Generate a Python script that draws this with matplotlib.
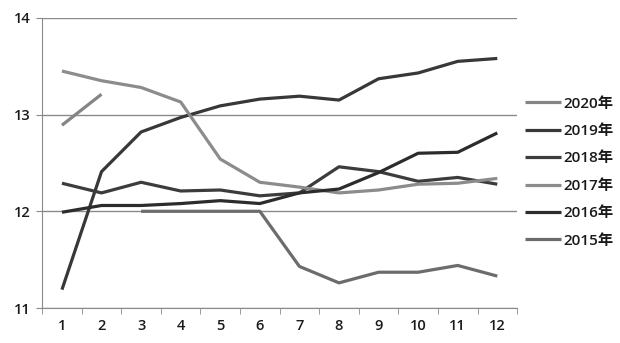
import numpy as np
import matplotlib.pyplot as plt

plt.rcParams['font.family'] = ['Open Sans', 'Noto Sans CJK SC', 'DejaVu Sans']
plt.rcParams['font.weight'] = 'semibold'
plt.rcParams['text.color'] = '#1a1a1a'

months = list(range(1, 13))
nan = np.nan
# values
y2020 = [12.89, 13.21, nan, nan, nan, nan, nan, nan, nan, nan, nan, nan]
y2019 = [11.19, 12.41, 12.82, 12.97, 13.09, 13.16, 13.19, 13.15, 13.37, 13.43, 13.55, 13.58]
y2018 = [12.29, 12.19, 12.30, 12.21, 12.22, 12.16, 12.19, 12.46, 12.41, 12.31, 12.35, 12.28]
y2017 = [13.45, 13.35, 13.28, 13.13, 12.54, 12.30, 12.25, 12.19, 12.22, 12.28, 12.29, 12.34]
y2016 = [11.99, 12.06, 12.06, 12.08, 12.11, 12.08, 12.19, 12.23, 12.40, 12.60, 12.61, 12.81]
y2015 = [nan, nan, 12.0, 12.0, 12.0, 12.0, 11.43, 11.26, 11.37, 11.37, 11.44, 11.33]

series = [("2020年", y2020, '#858585'),
          ("2019年", y2019, '#383838'),
          ("2018年", y2018, '#3c3c3c'),
          ("2017年", y2017, '#8c8c8c'),
          ("2016年", y2016, '#2c2c2c'),
          ("2015年", y2015, '#6c6c6c')]

fig = plt.figure(figsize=(6.2, 3.43), dpi=100)
ax = fig.add_axes([0.068, 0.102, 0.766, 0.846])

for name, vals, col in series:
    ax.plot(months, vals, color=col, lw=2.3, label=name, solid_capstyle='butt')

ax.set_xlim(0.5, 12.5)
ax.set_ylim(11, 14)
ax.set_yticks([11, 12, 13, 14])
ax.yaxis.grid(True, color='#8a8a8a', lw=1)
ax.set_axisbelow(True)
ax.set_xticks(months)
ax.set_xticks(np.arange(0.5, 13, 1), minor=True)
ax.tick_params(axis='x', which='major', length=0, labelsize=10.5, pad=8, labelcolor='#1a1a1a')
ax.tick_params(axis='x', which='minor', length=4, color='#8a8a8a', direction='out')
ax.tick_params(axis='y', length=4, color='#8a8a8a', labelsize=10.5, pad=4, labelcolor='#1a1a1a')
for s in ['top', 'right']:
    ax.spines[s].set_visible(False)
for s in ['left', 'bottom']:
    ax.spines[s].set_color('#8a8a8a')

ax.legend(loc='center left', bbox_to_anchor=(1.0, 0.468), frameon=False,
          fontsize=11, handlelength=2.4, handletextpad=0.1, labelspacing=0.88,
          borderaxespad=0.1)

fig.savefig('out.png', dpi=100)
